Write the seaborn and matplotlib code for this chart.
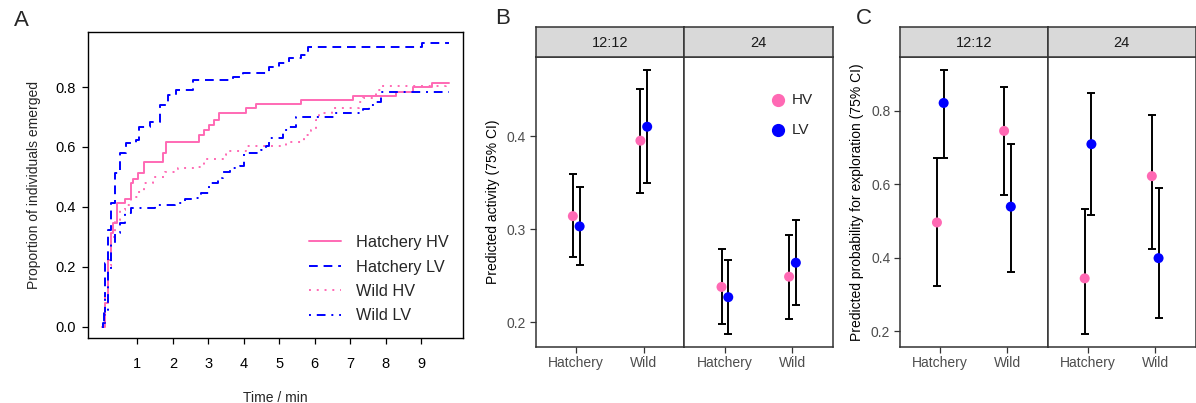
import numpy as np
import pandas as pd
import matplotlib
matplotlib.use('Agg')
import matplotlib.pyplot as plt
import seaborn as sns

# ---- panel A: cumulative emergence (step curves) ----
hhv_time = [0.0, 0.08, 0.17, 0.25, 0.31, 0.44, 0.66, 0.83, 0.875, 1.02, 1.19, 1.72, 1.81,
            2.75, 2.89, 3.03, 3.17, 3.31, 4.07, 4.35, 5.61, 7.07, 8.28, 8.76, 9.32, 9.79]
hhv_prop = [0.0, 0.079, 0.223, 0.312, 0.346, 0.412, 0.426, 0.479, 0.492, 0.512, 0.551, 0.579, 0.618,
            0.640, 0.657, 0.673, 0.690, 0.714, 0.729, 0.743, 0.757, 0.770, 0.784, 0.799, 0.812, 0.812]

hlv_time = [0.0, 0.03, 0.08, 0.17, 0.27, 0.36, 0.50, 0.69, 0.97, 1.06, 1.35, 1.63, 1.86, 2.10,
            2.56, 3.69, 3.97, 4.72, 5.00, 5.28, 5.61, 5.80, 9.03, 9.79]
hlv_prop = [0.0, 0.012, 0.212, 0.323, 0.412, 0.512, 0.579, 0.612, 0.623, 0.668, 0.685, 0.740, 0.773, 0.790,
            0.823, 0.834, 0.848, 0.868, 0.882, 0.896, 0.907, 0.934, 0.946, 0.946]

whv_time = [0.0, 0.08, 0.17, 0.27, 0.36, 0.50, 0.64, 0.83, 1.02, 1.20, 1.44, 1.77, 2.14, 2.61,
            2.89, 3.46, 3.50, 4.07, 5.19, 5.70, 5.89, 6.03, 6.13, 6.50, 7.25, 7.35, 7.72, 7.91, 9.70, 9.79]
whv_prop = [0.0, 0.101, 0.201, 0.301, 0.357, 0.390, 0.407, 0.434, 0.451, 0.479, 0.501, 0.518, 0.529, 0.534,
            0.559, 0.573, 0.588, 0.603, 0.616, 0.640, 0.657, 0.690, 0.712, 0.729, 0.751, 0.762, 0.790, 0.803, 0.815, 0.815]

wlv_time = [0.0, 0.06, 0.17, 0.27, 0.36, 0.50, 0.64, 0.83, 1.49, 2.05, 2.33, 2.61, 2.80, 3.03, 3.27,
            3.41, 3.60, 3.88, 4.02, 4.49, 4.63, 4.72, 5.10, 5.28, 5.47, 6.55, 7.35, 7.54, 7.72, 7.86, 9.79]
wlv_prop = [0.0, 0.057, 0.190, 0.279, 0.312, 0.346, 0.379, 0.396, 0.407, 0.412, 0.426, 0.429, 0.446, 0.481, 0.496,
            0.518, 0.529, 0.537, 0.579, 0.590, 0.603, 0.629, 0.657, 0.668, 0.699, 0.714, 0.726, 0.740, 0.751, 0.783, 0.783]

groups = ['Hatchery HV', 'Hatchery LV', 'Wild HV', 'Wild LV']

# ---- panels B and C: model predictions, order 12:12 Hatchery, 12:12 Wild, 24 Hatchery, 24 Wild ----
light = ['12:12', '24']
origin = ['Hatchery', 'Wild']

act_hv_est = [0.314, 0.395, 0.238, 0.249]
act_hv_lo = [0.270, 0.339, 0.198, 0.204]
act_hv_hi = [0.359, 0.451, 0.279, 0.294]
act_lv_est = [0.303, 0.410, 0.227, 0.264]
act_lv_lo = [0.262, 0.350, 0.188, 0.219]
act_lv_hi = [0.345, 0.471, 0.267, 0.310]

exp_hv_est = [0.496, 0.745, 0.344, 0.622]
exp_hv_lo = [0.323, 0.572, 0.194, 0.423]
exp_hv_hi = [0.671, 0.864, 0.534, 0.788]
exp_lv_est = [0.821, 0.539, 0.709, 0.399]
exp_lv_lo = [0.671, 0.361, 0.517, 0.235]
exp_lv_hi = [0.911, 0.709, 0.848, 0.590]

PINK = '#FF69B4'
BLUE = '#0000FF'

sns.set_theme(style='white')
plt.rcParams['font.family'] = ['Liberation Sans', 'DejaVu Sans']

W, H = 1196, 403
fig = plt.figure(figsize=(W / 100, H / 100), dpi=100)


def box(x0, y0, x1, y1):
    # pixel box (top-left origin) -> figure fraction rect
    return [x0 / W, 1 - y1 / H, (x1 - x0) / W, (y1 - y0) / H]


# ================= A =================
dfA = pd.concat([
    pd.DataFrame({'time': t, 'prop': p, 'group': g})
    for t, p, g in zip([hhv_time, hlv_time, whv_time, wlv_time],
                       [hhv_prop, hlv_prop, whv_prop, wlv_prop], groups)
])

axA = fig.add_axes(box(88, 32, 463, 338))
sns.lineplot(data=dfA, x='time', y='prop', hue='group', style='group',
             hue_order=groups, style_order=groups,
             palette={'Hatchery HV': PINK, 'Hatchery LV': BLUE, 'Wild HV': PINK, 'Wild LV': BLUE},
             dashes={'Hatchery HV': '', 'Hatchery LV': (4.5, 3), 'Wild HV': (1, 3), 'Wild LV': (1, 3, 4.5, 3)},
             estimator=None, sort=True, drawstyle='steps-post', linewidth=1.4, ax=axA)

tmax = dfA['time'].max()
pmax = dfA['prop'].max()
axA.set_xlim(-0.04 * tmax, tmax * 1.04)
axA.set_ylim(-0.04 * pmax, pmax * 1.04)
axA.set_xticks(range(1, 10))
axA.set_yticks([0, 0.2, 0.4, 0.6, 0.8])
axA.set_yticklabels(['0.0', '0.2', '0.4', '0.6', '0.8'])
axA.tick_params(axis='both', direction='out', length=4, width=0.9, colors='black',
                labelsize=10.5, pad=5, left=True, bottom=True)
axA.tick_params(axis='x', pad=10)
for s in axA.spines.values():
    s.set_color('black')
    s.set_linewidth(1.0)
axA.set_xlabel('Time / min', fontsize=10, labelpad=14)
axA.set_ylabel('Proportion of individuals emerged', fontsize=10, labelpad=10)
handles, labels = axA.get_legend_handles_labels()
axA.legend(handles, labels, loc='lower right', frameon=False, fontsize=11.7,
           handlelength=2.0, handletextpad=0.9, labelspacing=0.58,
           bbox_to_anchor=(1.0, 0.0))
fig.text(21 / W, 1 - 21 / H, 'A', fontsize=16, ha='center', va='center')


# ================= B and C =================
def facet_panel(x_left, x_right, hv_est, hv_lo, hv_hi, lv_est, lv_lo, lv_hi, ylabel, yticks, letter, letter_x, legend=False):
    lo_all = hv_lo + lv_lo
    hi_all = hv_hi + lv_hi
    span = max(hi_all) - min(lo_all)
    ylim = (min(lo_all) - 0.05 * span, max(hi_all) + 0.05 * span)
    edges = np.linspace(x_left, x_right, 3)
    axes = []
    for k, reg in enumerate(light):
        ax = fig.add_axes(box(edges[k], 56.7, edges[k + 1], 346.7))
        sl = slice(2 * k, 2 * k + 2)
        d = pd.DataFrame({
            'origin': origin * 2,
            'line': ['HV', 'HV', 'LV', 'LV'],
            'est': hv_est[sl] + lv_est[sl],
            'lo': hv_lo[sl] + lv_lo[sl],
            'hi': hv_hi[sl] + lv_hi[sl],
        })
        d['pos'] = d['origin'].map({o: i for i, o in enumerate(origin)}) + d['line'].map({'HV': -0.05, 'LV': 0.05})
        ax.errorbar(d['pos'], d['est'], yerr=[d['est'] - d['lo'], d['hi'] - d['est']],
                    fmt='none', ecolor='black', elinewidth=1.4, capsize=2.6, capthick=1.4, zorder=2)
        sns.scatterplot(data=d, x='pos', y='est', hue='line', hue_order=['HV', 'LV'],
                        palette={'HV': PINK, 'LV': BLUE}, s=52, edgecolor='none',
                        legend=False, zorder=3, ax=ax)
        ax.set_xlim(-0.6, 1.6)
        ax.set_ylim(*ylim)
        ax.set_xticks(range(len(origin)))
        ax.set_xticklabels(origin)
        ax.set_xlabel('')
        ax.set_ylabel('')
        ax.set_yticks(yticks)
        ax.set_yticklabels([f'{v:.1f}' for v in yticks])
        ax.tick_params(axis='both', direction='out', length=4, width=0.9, color='#333333',
                       labelcolor='#4D4D4D', labelsize=10, pad=3, bottom=True, left=(k == 0))
        if k > 0:
            ax.set_yticklabels([])
            ax.tick_params(axis='y', left=False)
        for s in ax.spines.values():
            s.set_color('#333333')
            s.set_linewidth(1.1)
        if k == 0:
            ax.set_ylabel(ylabel, fontsize=10, color='black', labelpad=5)
        # strip
        st = fig.add_axes(box(edges[k], 26.7, edges[k + 1], 56.7))
        st.set_facecolor('#D9D9D9')
        st.set_xticks([])
        st.set_yticks([])
        for s in st.spines.values():
            s.set_color('#333333')
            s.set_linewidth(1.1)
        st.text(0.5, 0.47, reg, transform=st.transAxes, ha='center', va='center',
                fontsize=10.5, color='#1A1A1A')
        axes.append(ax)
    fig.text(letter_x / W, 1 - 19 / H, letter, fontsize=16, ha='center', va='center')
    if legend:
        for lab, col, yy in [('HV', PINK, 100), ('LV', BLUE, 130)]:
            fig.lines.append(plt.Line2D([778 / W], [1 - yy / H], marker='o', markersize=8.5,
                                        color=col, linestyle='none', transform=fig.transFigure))
            fig.text(792 / W, 1 - yy / H, lab, fontsize=11, ha='left', va='center')
    return axes


facet_panel(535.7, 833, act_hv_est, act_hv_lo, act_hv_hi, act_lv_est, act_lv_lo, act_lv_hi,
            'Predicted activity (75% CI)', [0.2, 0.3, 0.4], 'B', 503, legend=True)
facet_panel(900, 1195.5, exp_hv_est, exp_hv_lo, exp_hv_hi, exp_lv_est, exp_lv_lo, exp_lv_hi,
            'Predicted probability for exploration (75% CI)', [0.2, 0.4, 0.6, 0.8], 'C', 864)

fig.savefig('out.png', dpi=100)
